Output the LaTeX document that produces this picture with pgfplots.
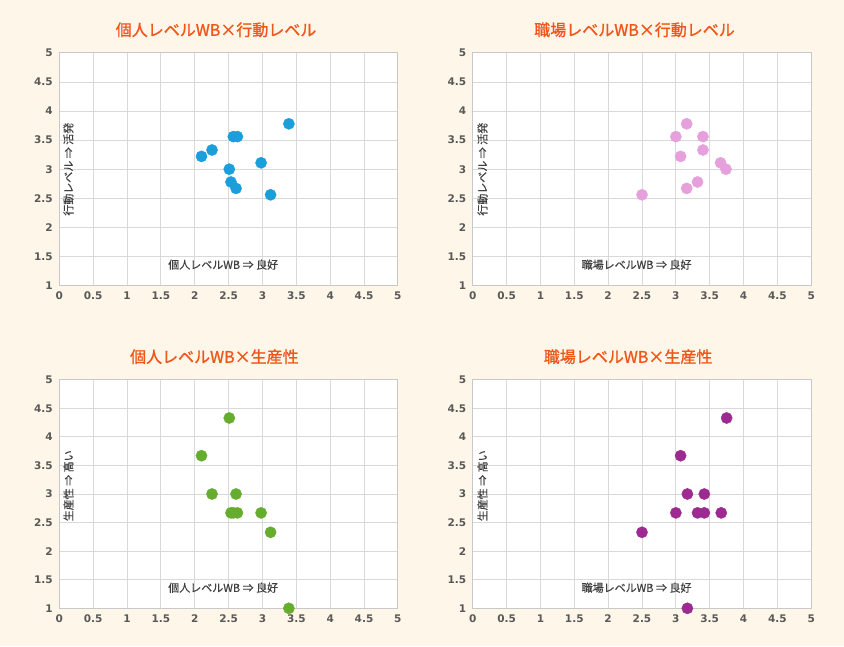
\documentclass[border=0pt]{standalone}
\usepackage{pgfplots}
\pgfplotsset{compat=1.18}
\usepackage{fontspec}
\setmainfont{Noto Sans CJK JP}
\newfontfamily\titlefont[FakeBold=1.2]{Noto Sans CJK JP}
\newfontfamily\labfont[FakeBold=0.4]{Noto Sans CJK JP}
\newfontfamily\tickfont{DejaVu Sans}
\definecolor{bg}{HTML}{FEF6E8}
\definecolor{gridc}{HTML}{D9D9D9}
\definecolor{axisc}{HTML}{C8C8C8}
\definecolor{tickc}{HTML}{595959}
\definecolor{labc}{HTML}{404040}
\definecolor{titc}{HTML}{F0561A}
\definecolor{cblue}{HTML}{1A9FDA}
\definecolor{cpink}{HTML}{E6A0DC}
\definecolor{cgreen}{HTML}{66AC2E}
\definecolor{cpurple}{HTML}{9C2A90}
\pgfplotsset{
  myax/.style={
    scale only axis, width=338.6pt,
    xmin=0, xmax=5, ymin=1, ymax=5,
    xtick={0,0.5,1,1.5,2,2.5,3,3.5,4,4.5,5},
    ytick={1,1.5,2,2.5,3,3.5,4,4.5,5},
    axis background/.style={fill=white},
    grid=major, major grid style={draw=gridc, line width=0.8pt},
    axis line style={draw=axisc, line width=0.8pt},
    tick style={draw=none},
    /pgf/number format/assume math mode=true,
    ticklabel style={font=\tickfont\bfseries\fontsize{10.5}{10.5}\selectfont, text=tickc},
    yticklabel style={xshift=-3pt},
    xticklabel style={yshift=-3pt},
    title style={font=\titlefont\fontsize{16}{16}\selectfont, text=titc, anchor=center, yshift=17pt},
    xlabel style={font=\labfont\fontsize{11}{11}\selectfont, text=labc, anchor=center, at={(axis description cs:0.484,0.09)}},
    ylabel style={font=\labfont\fontsize{11}{11}\selectfont, text=labc, anchor=center},
  },
  dots/.style={only marks, mark=*, mark size=5.6pt, draw=#1, fill=#1, mark options={draw=#1, fill=#1}},
}
\begin{document}
\begin{tikzpicture}
\fill[bg] (0pt,0pt) rectangle (844pt,646pt);
% top-left
\begin{axis}[myax, height=232.8pt, at={(59.3pt,360.4pt)}, anchor=south west,
  title={個人レベルWB×行動レベル}, title style={at={(0.463,1)}},
  xlabel={個人レベルWB ⇒ 良好},
  ylabel={行動レベル ⇒ 活発}, ylabel style={at={(axis description cs:0.027,0.5)}}]
\addplot[dots=cblue] coordinates {
(2.10,3.22) (2.255,3.33) (2.51,3.00) (2.535,2.78) (2.57,3.56)
(2.63,3.56) (2.61,2.67) (2.98,3.11) (3.12,2.56) (3.39,3.78)};
\end{axis}
% top-right
\begin{axis}[myax, height=232.8pt, at={(472.7pt,360.4pt)}, anchor=south west,
  title={職場レベルWB×行動レベル}, title style={at={(0.478,1)}},
  xlabel={職場レベルWB ⇒ 良好},
  ylabel={行動レベル ⇒ 活発}, ylabel style={at={(axis description cs:0.029,0.5)}}]
\addplot[dots=cpink] coordinates {
(3.16,3.78) (3.00,3.56) (3.40,3.56) (3.40,3.33) (3.07,3.22)
(3.66,3.11) (3.74,3.00) (3.32,2.78) (3.16,2.67) (2.50,2.56)};
\end{axis}
% bottom-left
\begin{axis}[myax, height=228.6pt, at={(59.3pt,37.7pt)}, anchor=south west,
  title={個人レベルWB×生産性}, title style={at={(0.458,1)}},
  xlabel={個人レベルWB ⇒ 良好},
  ylabel={生産性 ⇒ 高い}, ylabel style={at={(axis description cs:0.027,0.536)}}]
\addplot[dots=cgreen] coordinates {
(2.51,4.33) (2.10,3.67) (2.255,3.00) (2.61,3.00) (2.535,2.67)
(2.57,2.67) (2.63,2.67) (2.98,2.67) (3.12,2.33) (3.39,1.00)};
\end{axis}
% bottom-right
\begin{axis}[myax, height=228.6pt, at={(472.7pt,37.7pt)}, anchor=south west,
  title={職場レベルWB×生産性}, title style={at={(0.459,1)}},
  xlabel={職場レベルWB ⇒ 良好},
  ylabel={生産性 ⇒ 高い}, ylabel style={at={(axis description cs:0.029,0.536)}}]
\addplot[dots=cpurple] coordinates {
(3.75,4.33) (3.07,3.67) (3.17,3.00) (3.42,3.00) (3.00,2.67)
(3.32,2.67) (3.42,2.67) (3.67,2.67) (2.50,2.33) (3.17,1.00)};
\end{axis}
\end{tikzpicture}
\end{document}
